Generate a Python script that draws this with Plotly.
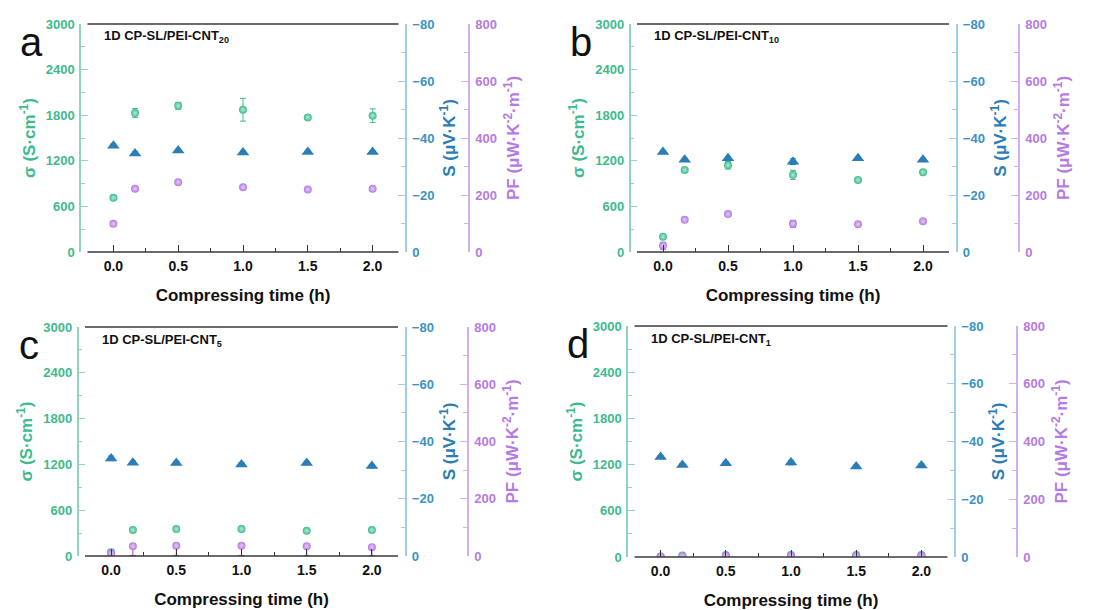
import plotly.graph_objects as go

# Compressing time (h), shared by all panels
time_h = [0, 0.167, 0.5, 1.0, 1.5, 2.0]

# Panel a: 1D CP-SL/PEI-CNT20
sigma_a = [713, 1828, 1924, 1872, 1771, 1793]
sigma_err_a = [20, 60, 45, 150, 20, 90]
seebeck_a = [-37.3, -34.6, -35.6, -34.9, -35.1, -35.1]
seebeck_err_a = [0.6, 0.6, 0.5, 0.6, 0.4, 0.4]
pf_a = [99, 222, 245, 227, 219, 222]
pf_err_a = [4, 5, 5, 5, 4, 4]
pf_errm_a = [4, 5, 5, 5, 4, 4]

# Panel b: 1D CP-SL/PEI-CNT10
sigma_b = [201, 1080, 1141, 1015, 949, 1050]
sigma_err_b = [15, 25, 50, 60, 20, 20]
seebeck_b = [-35.1, -32.4, -32.9, -31.7, -32.9, -32.4]
seebeck_err_b = [0.6, 0.5, 0.5, 1.0, 0.5, 0.5]
pf_b = [22, 113, 133, 99, 97, 108]
pf_err_b = [12, 5, 5, 12, 5, 5]
pf_errm_b = [12, 5, 5, 12, 5, 5]

# Panel c: 1D CP-SL/PEI-CNT5
sigma_c = [48, 340, 353, 353, 331, 340]
sigma_err_c = [5, 10, 10, 10, 10, 10]
seebeck_c = [-34.1, -32.6, -32.5, -32.0, -32.5, -31.4]
seebeck_err_c = [0.8, 0.6, 0.6, 0.6, 0.6, 0.6]
pf_c = [9, 34, 36, 36, 34, 31]
pf_err_c = [3, 3, 3, 3, 3, 3]
pf_errm_c = [9, 32, 34, 34, 32, 30]

# Panel d: 1D CP-SL/PEI-CNT1
sigma_d = [5, 20, 25, 25, 25, 25]
sigma_err_d = [3, 5, 5, 5, 5, 5]
seebeck_d = [-34.6, -31.9, -32.5, -32.7, -31.3, -31.7]
seebeck_err_d = [0.5, 0.5, 0.5, 0.8, 0.6, 0.6]
pf_d = [1, 3, 4, 4, 4, 4]
pf_err_d = [8, 3, 3, 3, 3, 3]
pf_errm_d = [1, 3, 4, 4, 4, 4]

panels = [
    ("a", "20", sigma_a, sigma_err_a, seebeck_a, seebeck_err_a, pf_a, pf_err_a, pf_errm_a),
    ("b", "10", sigma_b, sigma_err_b, seebeck_b, seebeck_err_b, pf_b, pf_err_b, pf_errm_b),
    ("c", "5", sigma_c, sigma_err_c, seebeck_c, seebeck_err_c, pf_c, pf_err_c, pf_errm_c),
    ("d", "1", sigma_d, sigma_err_d, seebeck_d, seebeck_err_d, pf_d, pf_err_d, pf_errm_d),
]

W, H = 1101, 610
# pixel boxes: left axis, right (S) axis, PF axis, top, bottom
boxes = [
    (73, 397, 461, 16, 244),
    (622.5, 947.5, 1011, 16, 244),
    (70.5, 396.5, 460, 319, 548),
    (620, 946, 1009, 318, 549),
]

GREEN = "#3dbb8c"
GREEN_LINE = "#8fd6b8"
BLUE = "#2a7db5"
BLUE_TXT = "#3b92c4"
BLUE_LINE = "#9fcfe8"
PURPLE = "#b57ae3"
PURPLE_LINE = "#d3aef0"
FONT = "Liberation Sans, Arial, sans-serif"

fig = go.Figure()
layout = {}
shapes = []
annotations = []

for i, (letter, sub, sig, sig_e, s, s_e, pf, pf_e, pf_em) in enumerate(panels):
    left, right, pfx, top, bottom = boxes[i]
    xn = "x" if i == 0 else f"x{i + 1}"
    y1, y2, y3 = 3 * i + 1, 3 * i + 2, 3 * i + 3
    yn = lambda k: "y" if k == 1 else f"y{k}"
    ykey = lambda k: "yaxis" if k == 1 else f"yaxis{k}"
    xkey = "xaxis" if i == 0 else f"xaxis{i + 1}"
    xdom = [left / W, right / W]
    ydom = [1 - bottom / H, 1 - top / H]

    fig.add_trace(go.Scatter(
        x=time_h, y=sig, xaxis=xn, yaxis=yn(y1), mode="markers",
        error_y=dict(array=sig_e, color=GREEN, thickness=1, width=3),
        marker=dict(symbol="circle", size=8, color=GREEN,
                    gradient=dict(type="radial", color="#b5ecd6")),
        showlegend=False))
    fig.add_trace(go.Scatter(
        x=time_h, y=s, xaxis=xn, yaxis=yn(y2), mode="markers",
        error_y=dict(array=s_e, color=BLUE, thickness=1, width=3),
        marker=dict(symbol="triangle-up", size=11, color=BLUE),
        showlegend=False))
    fig.add_trace(go.Scatter(
        x=time_h, y=pf, xaxis=xn, yaxis=yn(y3), mode="markers",
        error_y=dict(array=pf_e, arrayminus=pf_em, symmetric=False,
                     color="#8a55b8", thickness=1, width=3),
        marker=dict(symbol="circle", size=8, color=PURPLE,
                    gradient=dict(type="radial", color="#e6ccf8")),
        showlegend=False))

    layout[xkey] = dict(
        domain=xdom, anchor=yn(y1), range=[-0.25, 2.25],
        tickvals=[0, 0.5, 1.0, 1.5, 2.0], ticktext=["0.0", "0.5", "1.0", "1.5", "2.0"],
        ticks="inside", ticklen=7, tickwidth=1.2, tickcolor="#333",
        minor=dict(tickvals=[0.25, 0.75, 1.25, 1.75], ticks="inside", ticklen=4, tickcolor="#333"),
        showline=False, showgrid=False, zeroline=False, ticklabelstandoff=4,
        tickfont=dict(family=FONT, size=14, color="#111", weight="bold"),
        title=dict(text="<b>Compressing time (h)</b>", standoff=16,
                   font=dict(family=FONT, size=17, color="#111")),
        automargin=False)
    layout[ykey(y1)] = dict(
        domain=ydom, anchor=xn, range=[0, 3000], dtick=600,
        ticks="inside", ticklen=7, tickcolor=GREEN_LINE,
        minor=dict(dtick=300, ticks="inside", ticklen=4, tickcolor=GREEN_LINE),
        showline=True, linecolor=GREEN_LINE, linewidth=1.5,
        showgrid=False, zeroline=False, ticklabelstandoff=2,
        tickfont=dict(family=FONT, size=13, color=GREEN, weight="bold"),
        title=dict(text="<b>σ (S·cm<sup>-1</sup>)</b>", standoff=6,
                   font=dict(family=FONT, size=17, color=GREEN)),
        automargin=False)
    layout[ykey(y2)] = dict(
        overlaying=yn(y1), anchor=xn, side="right", range=[0, -80], dtick=20,
        ticks="inside", ticklen=7, tickcolor=BLUE_LINE,
        minor=dict(dtick=10, ticks="inside", ticklen=4, tickcolor=BLUE_LINE),
        showline=True, linecolor=BLUE_LINE, linewidth=1.5,
        showgrid=False, zeroline=False, ticklabelstandoff=3,
        tickfont=dict(family=FONT, size=13, color=BLUE_TXT, weight="bold"),
        title=dict(text="<b>S (μV·K<sup>-1</sup>)</b>", standoff=10,
                   font=dict(family=FONT, size=17, color=BLUE)),
        automargin=False)
    layout[ykey(y3)] = dict(
        overlaying=yn(y1), anchor="free", position=pfx / W, side="right",
        range=[0, 800], dtick=200,
        ticks="inside", ticklen=7, tickcolor=PURPLE_LINE,
        minor=dict(dtick=100, ticks="inside", ticklen=4, tickcolor=PURPLE_LINE),
        showline=True, linecolor=PURPLE_LINE, linewidth=1.5,
        showgrid=False, zeroline=False, ticklabelstandoff=3,
        tickfont=dict(family=FONT, size=13, color=PURPLE, weight="bold"),
        title=dict(text="<b>PF (μW·K<sup>-2</sup>·m<sup>-1</sup>)</b>", standoff=10,
                   font=dict(family=FONT, size=17, color=PURPLE)),
        automargin=False)

    # black top and bottom frame lines
    for yv in (0, 1):
        shapes.append(dict(type="line", xref=xn, yref=f"{yn(y1)} domain",
                           x0=-0.2, x1=2.2, y0=yv, y1=yv,
                           line=dict(color="#3a3a3a", width=1.5)))

    annotations.append(dict(
        text=f"<b>1D CP-SL/PEI-CNT<sub>{sub}</sub></b>", showarrow=False,
        xref="paper", yref="paper", x=(left + 21) / W, y=1 - (top + 13) / H,
        xanchor="left", yanchor="middle",
        font=dict(family=FONT, size=13, color="#111")))
    annotations.append(dict(
        text=letter, showarrow=False, xref="paper", yref="paper",
        x=(left - 50) / W, y=1 - (top + 18) / H, xanchor="center", yanchor="middle",
        font=dict(family=FONT, size=40, color="#111")))

fig.update_layout(
    width=W, height=H, margin=dict(l=0, r=0, t=0, b=0),
    plot_bgcolor="white", paper_bgcolor="white",
    shapes=shapes, annotations=annotations, **layout)

fig.write_html("out.html")
